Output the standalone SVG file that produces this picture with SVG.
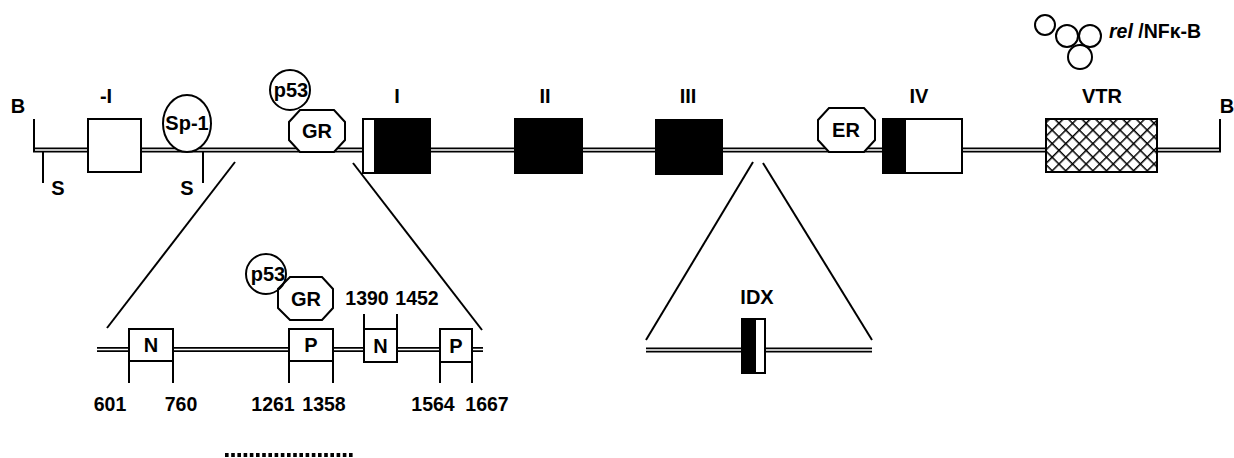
<svg xmlns="http://www.w3.org/2000/svg" width="1234" height="458" viewBox="0 0 1234 458">
<defs>
<style>
.t{font-family:"Liberation Sans",Arial,sans-serif;font-weight:bold;font-size:20px;fill:#000;text-anchor:middle}
.n{font-size:19.5px}
.ln{stroke:#000;stroke-width:2;fill:none}
.box{stroke:#000;stroke-width:2;fill:#fff}
.blk{stroke:#000;stroke-width:2;fill:#000}
.dl{stroke:#000;stroke-width:5;fill:none}
.dw{stroke:#fff;stroke-width:1.4;fill:none}
</style>
<pattern id="hatch" width="9.6" height="9.6" patternUnits="userSpaceOnUse" patternTransform="rotate(45)">
<rect width="9.6" height="9.6" fill="#fff"/>
<line x1="0" y1="0" x2="0" y2="9.6" stroke="#000" stroke-width="3"/>
<line x1="0" y1="0" x2="9.6" y2="0" stroke="#000" stroke-width="3"/>
</pattern>
</defs>
<rect width="1234" height="458" fill="#fff"/>

<g id="connectors">
<path class="dl" d="M33,150 H1221"/>
<path class="dw" d="M35,150 H1219"/>
<path class="ln" d="M34,119 V152"/>
<path class="ln" d="M1220,119 V152"/>
<path class="ln" d="M43,152 V183"/>
<path class="ln" d="M203,152 V183"/>
<path class="ln" d="M235,162 L107,328"/>
<path class="ln" d="M353,163 L482,330"/>
<path class="ln" d="M753,162 L646,340"/>
<path class="ln" d="M763,163 L872,340"/>
<path class="dl" d="M97,349.5 H483"/>
<path class="dw" d="M97,349.5 H483"/>
<path class="dl" d="M646,350 H872"/>
<path class="dw" d="M646,350 H872"/>
<path class="ln" d="M129,361 V383 M173,361 V383 M289,361 V383 M333,361 V383 M440,361 V383 M472,361 V383 M364,314 V329 M397,314 V329"/>
<path d="M225,455 H355" stroke="#000" stroke-width="4" stroke-dasharray="3.6,2.6"/>
</g>

<g id="labels-ends">
<text class="t" x="18" y="113">B</text>
<text class="t" x="1227" y="113">B</text>
<text class="t" x="58" y="195">S</text>
<text class="t" x="187" y="195">S</text>
</g>

<g id="exon-minus1">
<rect class="box" x="88" y="119" width="53" height="53"/>
<text class="t" x="106" y="103">-I</text>
</g>

<g id="sp1">
<ellipse class="box" cx="187" cy="123.5" rx="24" ry="28.5"/>
<text class="t" x="187" y="130">Sp-1</text>
</g>

<g id="gr-top">
<polygon class="box" points="300,110 334,110 345,122 345,140 334,152 300,152 289,140 289,122"/>
<text class="t" x="317" y="138">GR</text>
</g>
<g id="p53-top">
<circle class="ln" cx="290" cy="90" r="20"/>
<text class="t" x="291" y="97">p53</text>
</g>

<g id="exon-I">
<rect class="box" x="363" y="119" width="12" height="54"/>
<rect class="blk" x="375" y="119" width="55" height="54"/>
<text class="t" x="397" y="103">I</text>
</g>
<g id="exon-II">
<rect class="blk" x="515" y="119" width="67" height="54"/>
<text class="t" x="545" y="103">II</text>
</g>
<g id="exon-III">
<rect class="blk" x="656" y="120" width="66" height="54"/>
<text class="t" x="688" y="103">III</text>
</g>

<g id="er">
<polygon class="box" points="829,108 864,108 875,120 875,140 864,152 829,152 818,140 818,120"/>
<text class="t" x="846" y="137">ER</text>
</g>

<g id="exon-IV">
<rect class="box" x="883" y="119" width="79" height="54"/>
<rect class="blk" x="883" y="119" width="22" height="54"/>
<text class="t" x="919" y="103">IV</text>
</g>

<g id="vtr">
<rect x="1046" y="119" width="111" height="53" fill="url(#hatch)" stroke="#000" stroke-width="2"/>
<text class="t" x="1102" y="103">VTR</text>
</g>

<g id="rel-nfkb">
<circle class="ln" cx="1045" cy="25" r="10"/>
<circle class="ln" cx="1067" cy="36" r="11"/>
<circle class="ln" cx="1090" cy="36" r="11"/>
<circle class="ln" cx="1080" cy="57" r="12"/>
<text class="t" x="1109" y="38" style="text-anchor:start;font-size:19.5px"><tspan font-style="italic">rel</tspan> /NFκ-B</text>
</g>

<g id="sub-gr">
<polygon class="box" points="290,277 322,277 333,289 333,308 322,320 290,320 278,308 278,289"/>
<text class="t" x="306" y="306">GR</text>
</g>
<g id="sub-p53">
<circle class="ln" cx="266" cy="274" r="20"/>
<text class="t" x="268" y="281">p53</text>
</g>

<g id="sub-N1">
<rect class="box" x="129" y="329" width="44" height="32"/>
<text class="t" x="151" y="352">N</text>
</g>
<g id="sub-P1">
<rect class="box" x="289" y="329" width="44" height="32"/>
<text class="t" x="311" y="352">P</text>
</g>
<g id="sub-N2">
<rect class="box" x="364" y="329" width="33" height="33"/>
<text class="t" x="380.5" y="353">N</text>
</g>
<g id="sub-P2">
<rect class="box" x="440" y="329" width="32" height="33"/>
<text class="t" x="456" y="353">P</text>
</g>

<g id="numbers">
<text class="t n" x="110" y="411">601</text>
<text class="t n" x="181" y="411">760</text>
<text class="t n" x="273" y="411">1261</text>
<text class="t n" x="324" y="411">1358</text>
<text class="t n" x="433" y="411">1564</text>
<text class="t n" x="487" y="411">1667</text>
<text class="t n" x="367" y="305">1390</text>
<text class="t n" x="417" y="305">1452</text>
</g>

<g id="idx">
<rect class="blk" x="742" y="319" width="13" height="54"/>
<rect class="box" x="755" y="319" width="10" height="54"/>
<text class="t" x="757" y="304">IDX</text>
</g>
</svg>
